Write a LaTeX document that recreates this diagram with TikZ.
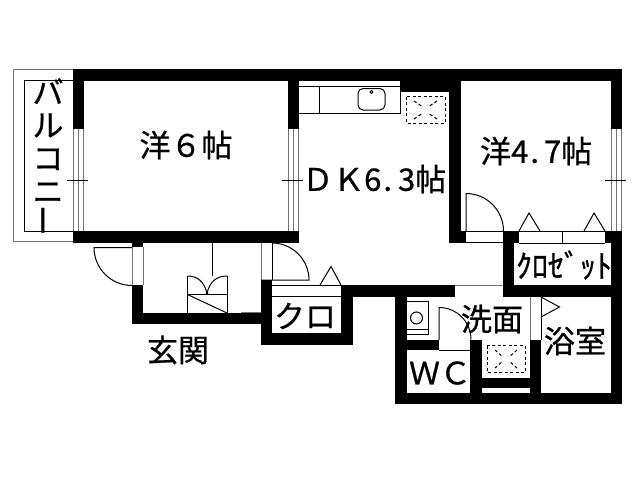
\documentclass[tikz,border=0pt]{standalone}
\usepackage{fontspec}
\usepackage{graphicx}
\setmainfont{Noto Sans CJK JP}[RawFeature={embolden=0.7}]
\tikzset{
  thinline/.style={draw=black,line width=1pt},
  greyline/.style={draw=black!55,line width=1pt},
  hatch/.style={draw=black,line width=1pt,dash pattern=on 3pt off 2.5pt},
  label30/.style={inner sep=0pt,font=\fontsize{31pt}{33pt}\selectfont,text=black},
}
\newcommand{\wallbox}[4]{\fill[black] (#1,#2) rectangle (#3,#4);}
\begin{document}
\begin{tikzpicture}[x=1pt,y=-1pt]
\useasboundingbox (0,0) rectangle (640,480);
\fill[white] (0,0) rectangle (640,480);
% balcony
\draw[greyline] (73,69.5) -- (13.5,69.5) -- (13.5,241.5) -- (73,241.5);
\draw[thinline] (73,80.5) -- (24.5,80.5) -- (24.5,231.5) -- (73,231.5);
% walls, top range
\wallbox{73}{69}{622}{81}
\wallbox{73}{81}{84}{129}
\wallbox{288}{81}{299}{129}
\wallbox{73}{231}{299}{243}
\wallbox{400}{81}{461}{92}
\wallbox{449}{92}{461}{243}
\wallbox{611}{81}{622}{129}
\wallbox{605}{231}{622}{243}
\wallbox{611}{243}{622}{404}
\wallbox{503}{231}{519}{243}
\wallbox{503}{243}{514}{297}
\wallbox{503}{285}{622}{297}
\wallbox{461}{231}{466}{243}
% lower range
\wallbox{353}{285}{455}{297}
\wallbox{395}{297}{407}{404}
\wallbox{395}{393}{622}{404}
\wallbox{482}{378}{530}{388}
\wallbox{530}{340}{541}{404}
\wallbox{407}{340}{439}{350}
\wallbox{470}{340}{482}{404}
% entry
\wallbox{132}{243}{143}{247}
\wallbox{132}{285}{143}{324}
\wallbox{132}{313}{261}{324}
\wallbox{261}{280}{272}{345}
\wallbox{261}{333}{353}{345}
\wallbox{341}{285}{353}{345}
% windows
\foreach \xa in {73.5,78.5,83.5,288.5,293.5,298.5,611.5,616.5,621.5}
  \draw[greyline] (\xa,129) -- (\xa,231);
\draw[thinline] (67,180) -- (88,180);
\draw[thinline] (282,180) -- (303,180);
\draw[thinline] (605,180) -- (626,180);
% kitchen
\draw[thinline] (299,86) -- (400,86);
\draw[thinline] (299,113) -- (400,113) -- (400,86);
\draw[thinline] (319,86) -- (319,113);
\draw[thinline,rounded corners=5pt] (358,88.5) rectangle (385,110);
\draw[thinline] (371.5,92) circle (1.5);
% stove
\draw[hatch] (406.5,96.5) rectangle (445,123);
\draw[hatch] (414,101) -- (423,107);
\draw[hatch] (437,101) -- (428,107);
\draw[hatch] (414,119) -- (423,113);
\draw[hatch] (437,119) -- (428,113);
% right room door and closet
\draw[thinline] (466,231) -- (466,193.5) arc[start angle=-90,end angle=0,radius=37.5];
\draw[thinline] (466,231.5) -- (503,231.5);
\draw[thinline] (466,242.5) -- (503,242.5);
\draw[thinline] (519,231.5) -- (605,231.5);
\draw[thinline] (519,243) -- (605,243);
\draw[thinline] (562.5,231) -- (562.5,243);
\draw[thinline] (519,231) -- (529,213) -- (540,231);
\draw[thinline] (584,231) -- (594,213) -- (605,231);
% entrance
\draw[thinline] (132,247.5) -- (94,247.5) arc[start angle=180,end angle=90,radius=38] ;
\draw[greyline] (132.5,247) -- (132.5,285);
\draw[greyline] (143,247) -- (143,285);
\draw[thinline] (212.5,243) -- (212.5,276);
\draw[thinline] (187.5,313) -- (187.5,276);
\draw[thinline] (227,313) -- (227,276);
\draw[thinline] (187.5,294.5) -- (227,294.5);
\draw[thinline] (187.5,294.5) -- (227,313);
\draw[thinline] (187.5,276) .. controls (198,276) and (204,282) .. (207,293);
\draw[thinline] (227,276) .. controls (216,276) and (210,282) .. (207,293);
\fill[black] (207,293) circle (1.5);
\draw[greyline] (241,312.5) -- (261,312.5);
% door to corridor
\draw[greyline] (261.5,243) -- (261.5,280);
\draw[thinline] (272.5,243) -- (272.5,280);
\draw[thinline] (272,243) arc[start angle=-90,end angle=0,radius=37] -- (261,280);
% small closet
\draw[thinline] (272,285.5) -- (341,285.5);
\draw[thinline] (272,296.5) -- (341,296.5);
\draw[thinline] (320,285) -- (331,266.5) -- (341,285);
% washroom
\draw[thinline] (407,301.5) -- (428,301.5) -- (428,334) -- (407,334);
\draw[thinline] (407,329) -- (428,329);
\draw[thinline] (416.5,318) circle (6);
\draw[thinline] (439,340) -- (439,307.5) arc[start angle=-90,end angle=0,radius=32];
\draw[thinline] (439,350) -- (470,350);
\draw[hatch] (487,345.5) rectangle (525,372);
\draw[hatch] (495,350) -- (503,357);
\draw[hatch] (517,350) -- (509,357);
\draw[hatch] (495,368) -- (503,361);
\draw[hatch] (517,368) -- (509,361);
\draw[greyline] (530.5,297) -- (530.5,340);
\draw[thinline] (541,297) -- (541,340);
\draw[thinline] (541,297) -- (559.5,307) -- (541,317);
\draw[greyline] (455,285.5) -- (503,285.5);
% labels
\node[label30,align=center] (balc) at (48,157) {\fontsize{31pt}{33.2pt}\selectfont バ\\ル\\コ\\ニ\\\rotatebox{90}{ー}};
\node[label30] (r1) at (186,145) {洋６帖};
\node[label30,anchor=west] (dk) at (302,179) {ＤＫ6\hspace{2pt}.\hspace{6pt}3帖};
\node[label30,anchor=west] (r2) at (480,151) {洋4\hspace{2pt}.\hspace{5pt}7帖};
\node[label30] (kuro) at (305,316) {クロ};
\node[label30] (genkan) at (178,350) {玄関};
\node[inner sep=0pt,font=\fontsize{32pt}{34pt}\selectfont] (closet) at (564,265) {ｸﾛｾﾞｯﾄ};
\node[label30] (sen) at (492,319) {洗面};
\node[label30] (yoku) at (575,341) {浴室};
\node[label30] (wc) at (440,373) {ＷＣ};
\end{tikzpicture}
\end{document}
